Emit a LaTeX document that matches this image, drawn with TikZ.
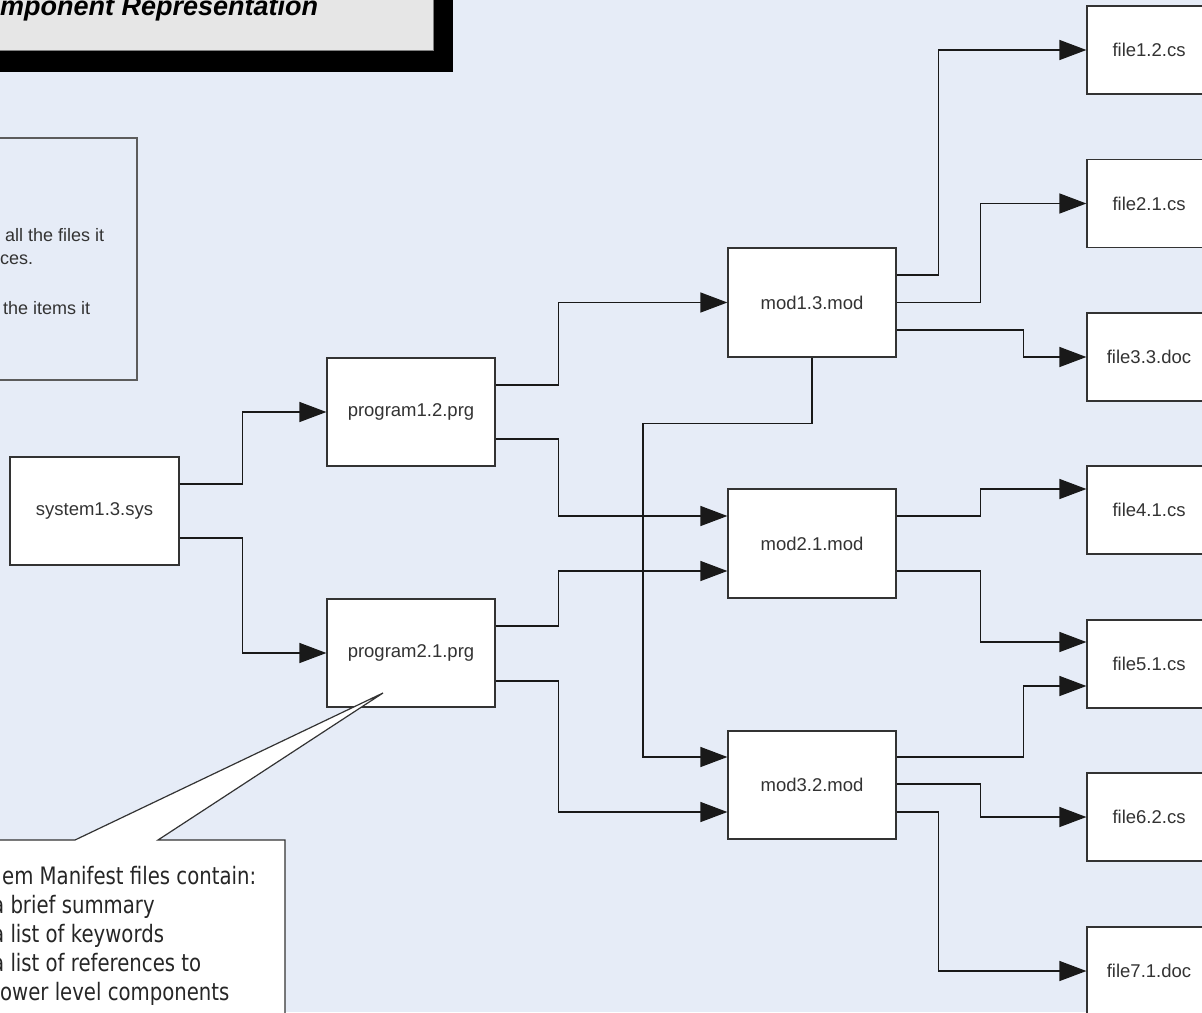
\documentclass[tikz,border=0pt]{standalone}
\usepackage{fontspec}
\setmainfont{Liberation Sans}
\newfontfamily\callfont[FakeStretch=0.82]{DejaVu Sans}
\usepackage{tikz}
\usetikzlibrary{calc}
\usetikzlibrary{arrows.meta}

\definecolor{pagebg}{HTML}{E6ECF7}
\definecolor{titlegrey}{HTML}{E6E6E6}
\definecolor{boxline}{HTML}{333333}
\definecolor{boxtext}{HTML}{333333}

\tikzset{
  compbox/.style={draw=boxline, line width=1.2pt, fill=white, inner sep=0pt,
    minimum width=168pt, minimum height=108pt, text=boxtext,
    font=\fontsize{18.5}{22}\selectfont},
  filebox/.style={compbox, minimum width=124pt, minimum height=88pt},
  link/.style={draw=black!90, line width=1.3pt, -{Triangle[length=27pt,width=20pt]}},
  notetext/.style={anchor=base west, inner sep=0pt, text=boxtext,
    font=\fontsize{18}{22}\selectfont},
  calltext/.style={anchor=base west, inner sep=0pt, text=black!85,
    font=\callfont\fontsize{24}{29}\selectfont}
}

\begin{document}
\begin{tikzpicture}[x=1pt,y=-1pt]
        % Page and background
        \useasboundingbox (0,0) rectangle (1202,1012);
        \fill[pagebg] (0,0) rectangle (1202,1012);

        % Draw the title box
        \fill[black] (-10,-10) rectangle (453,72);
        \fill[titlegrey] (-10,-10) rectangle (433,50);
        \draw[gray, line width=0.8pt] (-10,50) -- (433,50) -- (433,-10);
        \node[anchor=base west, inner sep=0pt, font=\bfseries\itshape\fontsize{27}{30}\selectfont] (title) at (0,15) {mponent Representation};

        % Draw the note box
        \draw[boxline!80, line width=1.2pt] (-10,138) rectangle (137,380);
        \node[notetext] (noteA) at (5,241) {all the files it};
        \node[notetext] (noteB) at (0,264) {ces.};
        \node[notetext] (noteC) at (3,314) {the items it};

        % Creates the component boxes
        \node[compbox, minimum width=169pt] (sys) at (94.5,511) {system1.3.sys};
        \node[compbox] (prgA) at (411,412) {program1.2.prg};
        \node[compbox] (prgB) at (411,653) {program2.1.prg};
        \node[compbox, minimum height=109pt] (modA) at (812,302.5) {mod1.3.mod};
        \node[compbox, minimum height=109pt] (modB) at (812,543.5) {mod2.1.mod};
        \node[compbox] (modC) at (812,785) {mod3.2.mod};

        % Creates the file boxes
        \node[filebox] (fileA) at (1149,50) {file1.2.cs};
        \node[filebox] (fileB) at (1149,203.5) {file2.1.cs};
        \node[filebox] (fileC) at (1149,357) {file3.3.doc};
        \node[filebox] (fileD) at (1149,510) {file4.1.cs};
        \node[filebox] (fileE) at (1149,664) {file5.1.cs};
        \node[filebox] (fileF) at (1149,817) {file6.2.cs};
        \node[filebox] (fileG) at (1149,971) {file7.1.doc};

        % Draw the links system -> programs
        \draw[link] ([yshift=27pt]sys.east) -- ++(63,0) |- (prgA.west);
        \draw[link] ([yshift=-27pt]sys.east) -- ++(63,0) |- (prgB.west);

        % Draw the links programs -> modules
        \draw[link] ([yshift=27pt]prgA.east) -- ++(63,0) |- (modA.west);
        \draw[link] ([yshift=-27pt]prgA.east) -- ++(63,0) |- ([yshift=27.5pt]modB.west);
        \draw[link] ([yshift=27pt]prgB.east) -- ++(63,0) |- ([yshift=-27.5pt]modB.west);
        \draw[link] ([yshift=-28pt]prgB.east) -- ++(63,0) |- ([yshift=-27pt]modC.west);
        \draw[link] (modA.south) -- ++(0,66) -- ++(-169,0) |- ([yshift=28pt]modC.west);

        % Draw the links modules -> files
        \draw[link] ([yshift=27.5pt]modA.east) -- ++(42,0) |- (fileA.west);
        \draw[link] (modA.east) -- ++(84,0) |- (fileB.west);
        \draw[link] ([yshift=-27.5pt]modA.east) -- ++(127,0) |- (fileC.west);
        \draw[link] ([yshift=27.5pt]modB.east) -- ++(84,0) |- ([yshift=21pt]fileD.west);
        \draw[link] ([yshift=-27.5pt]modB.east) -- ++(84,0) |- ([yshift=22pt]fileE.west);
        \draw[link] ([yshift=28pt]modC.east) -- ++(127,0) |- ([yshift=-22pt]fileE.west);
        \draw[link] ([yshift=1pt]modC.east) -- ++(84,0) |- (fileF.west);
        \draw[link] ([yshift=-27pt]modC.east) -- ++(42,0) |- (fileG.west);

        % Draw the callout for program2.1.prg
        \coordinate (tip) at (383,693);
        \draw[boxline, line width=1.2pt, fill=white] (-10,840) -- (75,840) -- (tip) -- (158,840) -- (285,840) -- (285,1025) -- (-10,1025) -- cycle;
        \node[calltext] (callA) at (2,884) {em Manifest files contain:};
        \node[calltext] (callB) at (-8,913) {a brief summary};
        \node[calltext] (callC) at (-8,942) {a list of keywords};
        \node[calltext] (callD) at (-8,971) {a list of references to};
        \node[calltext] (callE) at (0,1000) {ower level components};

      \end{tikzpicture}
\end{document}
